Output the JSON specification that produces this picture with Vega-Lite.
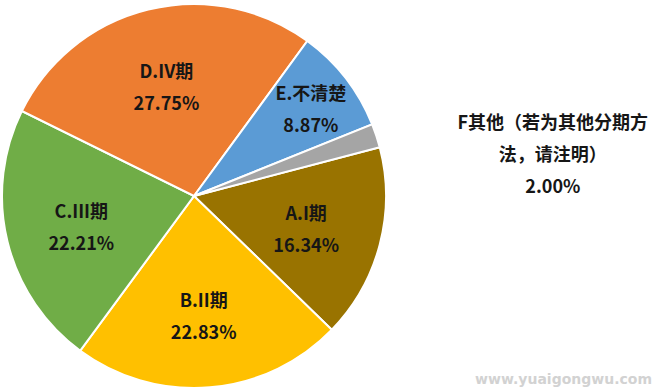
{
  "$schema": "https://vega.github.io/schema/vega-lite/v6.json",
  "width": 388,
  "height": 392,
  "autosize": {"type": "none"},
  "padding": {"left": 0, "top": 0, "right": 268, "bottom": 0},
  "background": "white",
  "config": {"view": {"stroke": null}},
  "datasets": {
    "stages": [
      {"k": "A", "pct": 16.34, "label": "A.I期\n16.34%"},
      {"k": "B", "pct": 22.83, "label": "B.II期\n22.83%"},
      {"k": "C", "pct": 22.21, "label": "C.III期\n22.21%"},
      {"k": "D", "pct": 27.75, "label": "D.IV期\n27.75%"},
      {"k": "E", "pct": 8.87, "label": "E.不清楚\n8.87%"},
      {"k": "F", "pct": 2.00, "label": "F其他（若为其他分期方\n法，请注明）\n2.00%"}
    ],
    "mark": [{"t": "www.yuaigongwu.com"}]
  },
  "layer": [
    {
      "data": {"name": "stages"},
      "layer": [
        {
          "mark": {"type": "arc", "outerRadius": 192, "stroke": "white", "strokeWidth": 2},
          "encoding": {
            "color": {"field": "k", "type": "nominal", "legend": null,
              "scale": {"domain": ["A", "B", "C", "D", "E", "F"],
                "range": ["#997300", "#FFC000", "#70AD47", "#ED7D31", "#5B9BD5", "#A5A5A5"]}}
          }
        },
        {
          "mark": {"type": "text", "radius": 116, "dy": -10, "fontSize": 18, "fontWeight": "bold", "font": "Noto Sans CJK SC", "lineBreak": "\n", "lineHeight": 32, "fill": "#161616", "align": "center", "baseline": "middle"},
          "encoding": {
            "text": {"field": "label"},
            "opacity": {"condition": {"test": "indexof(['A','B','C','D'], datum.k) >= 0", "value": 1}, "value": 0}
          }
        },
        {
          "mark": {"type": "text", "radius": 148, "dy": -10, "fontSize": 18, "fontWeight": "bold", "font": "Noto Sans CJK SC", "lineBreak": "\n", "lineHeight": 32, "fill": "#161616", "align": "center", "baseline": "middle"},
          "encoding": {
            "text": {"field": "label"},
            "opacity": {"condition": {"test": "datum.k === 'E'", "value": 1}, "value": 0}
          }
        },
        {
          "mark": {"type": "text", "radius": 300, "dx": 74, "dy": 22, "fontSize": 18, "fontWeight": "bold", "font": "Noto Sans CJK SC", "lineBreak": "\n", "lineHeight": 32, "fill": "#161616", "align": "center", "baseline": "middle"},
          "encoding": {
            "text": {"field": "label"},
            "opacity": {"condition": {"test": "datum.k === 'F'", "value": 1}, "value": 0}
          }
        }
      ],
      "encoding": {
        "theta": {"field": "pct", "type": "quantitative", "stack": true, "scale": {"range": [1.3143, 7.5975]}},
        "order": {"field": "k", "type": "ordinal"},
        "detail": {"field": "k", "type": "nominal"}
      }
    },
    {
      "data": {"name": "mark"},
      "mark": {"type": "text", "x": {"expr": "width + 264"}, "y": {"expr": "height - 12"}, "align": "right", "baseline": "middle", "fontSize": 14, "fontWeight": "bold", "font": "DejaVu Sans", "fill": "#d2d2d2"},
      "encoding": {"text": {"field": "t"}}
    }
  ]
}
